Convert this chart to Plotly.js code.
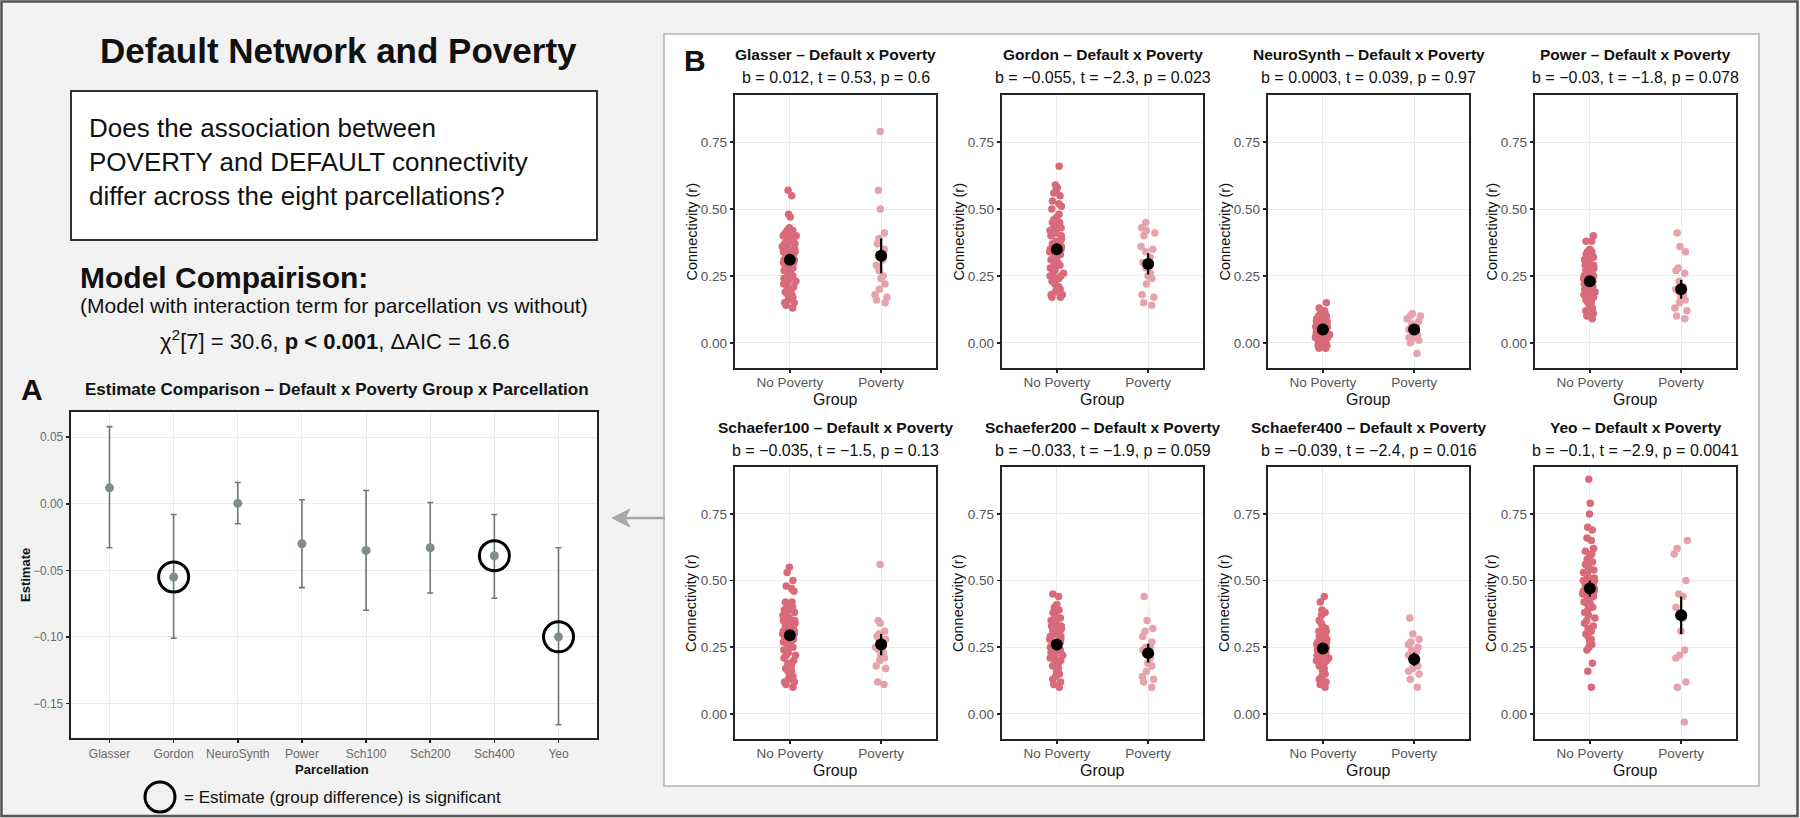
<!DOCTYPE html>
<html><head><meta charset="utf-8">
<script src="https://cdn.plot.ly/plotly-3.0.1.min.js"></script>
<style>html,body{margin:0;padding:0;background:#f2f2f2;}#chart{width:1800px;height:818px;}</style>
</head><body><div id="chart"></div>
<script>
// ---------- Panel A data ----------
const parcelShort = ["Glasser","Gordon","NeuroSynth","Power","Sch100","Sch200","Sch400","Yeo"];
const estimate    = [0.012, -0.055, 0.0003, -0.030, -0.035, -0.033, -0.039, -0.100];
const ciLower     = [-0.033, -0.101, -0.015, -0.063, -0.080, -0.067, -0.071, -0.166];
const ciUpper     = [0.058, -0.008, 0.016, 0.003, 0.010, 0.001, -0.008, -0.033];
const significant = [false, true, false, false, false, false, true, true];

// ---------- Panel B data ----------
const groups = ["No Poverty","Poverty"];
const parcelNames = ["Glasser","Gordon","NeuroSynth","Power","Schaefer100","Schaefer200","Schaefer400","Yeo"];
const statsText = [
  "b = 0.012, t = 0.53, p = 0.6",
  "b = \u22120.055, t = \u22122.3, p = 0.023",
  "b = 0.0003, t = 0.039, p = 0.97",
  "b = \u22120.03, t = \u22121.8, p = 0.078",
  "b = \u22120.035, t = \u22121.5, p = 0.13",
  "b = \u22120.033, t = \u22121.9, p = 0.059",
  "b = \u22120.039, t = \u22122.4, p = 0.016",
  "b = \u22120.1, t = \u22122.9, p = 0.0041"
];
const glasserNP = [0.57,0.55,0.48,0.47,0.43,0.42,0.42,0.41,0.41,0.40,0.40,0.39,0.39,0.38,0.38,0.37,0.37,0.37,0.36,0.36,0.35,0.35,0.35,0.34,0.34,0.33,0.33,0.33,0.32,0.32,0.31,0.31,0.30,0.30,0.29,0.29,0.28,0.28,0.27,0.27,0.26,0.26,0.25,0.25,0.24,0.24,0.23,0.23,0.22,0.22,0.21,0.20,0.20,0.19,0.18,0.18,0.17,0.17,0.16,0.15,0.15,0.14,0.13];
const glasserP  = [0.79,0.57,0.50,0.41,0.39,0.37,0.35,0.33,0.31,0.29,0.27,0.25,0.24,0.22,0.20,0.18,0.17,0.16,0.15];
const gordonNP  = [0.66,0.59,0.58,0.57,0.56,0.55,0.53,0.52,0.51,0.50,0.48,0.47,0.46,0.45,0.45,0.44,0.43,0.43,0.42,0.41,0.41,0.40,0.40,0.39,0.38,0.38,0.37,0.37,0.36,0.36,0.35,0.35,0.34,0.34,0.33,0.33,0.32,0.32,0.31,0.30,0.30,0.29,0.29,0.28,0.28,0.27,0.26,0.26,0.25,0.25,0.24,0.24,0.23,0.22,0.21,0.20,0.20,0.19,0.18,0.18,0.17,0.17];
const gordonP   = [0.45,0.43,0.42,0.41,0.40,0.36,0.35,0.34,0.32,0.30,0.28,0.26,0.25,0.24,0.22,0.18,0.17,0.15,0.14];
const neuroNP   = [0.15,0.13,0.12,0.12,0.11,0.11,0.10,0.10,0.10,0.09,0.09,0.09,0.08,0.08,0.08,0.08,0.07,0.07,0.07,0.07,0.06,0.06,0.06,0.06,0.06,0.05,0.05,0.05,0.05,0.05,0.04,0.04,0.04,0.04,0.04,0.03,0.03,0.03,0.03,0.03,0.02,0.02,0.02,0.02,0.01,0.01,0.01,0.00,0.00,0.00,-0.01,-0.01,-0.02,-0.02];
const neuroP    = [0.11,0.10,0.10,0.09,0.08,0.07,0.06,0.05,0.05,0.04,0.03,0.03,0.02,0.02,0.01,0.00,-0.04];
const powerNP   = [0.40,0.38,0.38,0.35,0.34,0.34,0.33,0.33,0.32,0.32,0.31,0.30,0.30,0.29,0.29,0.28,0.28,0.27,0.27,0.26,0.26,0.25,0.25,0.25,0.24,0.24,0.23,0.23,0.23,0.22,0.22,0.22,0.21,0.21,0.20,0.20,0.20,0.19,0.19,0.18,0.18,0.17,0.17,0.16,0.16,0.15,0.15,0.14,0.13,0.12,0.12,0.11,0.10,0.09];
const powerP    = [0.41,0.36,0.34,0.28,0.27,0.26,0.23,0.21,0.20,0.19,0.18,0.17,0.16,0.15,0.13,0.12,0.10,0.09];
const sch100NP  = [0.55,0.53,0.50,0.48,0.47,0.46,0.42,0.42,0.41,0.40,0.40,0.39,0.39,0.38,0.37,0.37,0.36,0.36,0.35,0.35,0.34,0.34,0.33,0.33,0.32,0.32,0.31,0.31,0.30,0.30,0.29,0.29,0.28,0.28,0.27,0.27,0.26,0.26,0.25,0.25,0.24,0.24,0.23,0.22,0.22,0.21,0.20,0.19,0.18,0.17,0.16,0.16,0.15,0.14,0.13,0.12,0.12,0.11,0.10];
const sch100P   = [0.56,0.35,0.34,0.31,0.30,0.29,0.28,0.27,0.26,0.25,0.24,0.23,0.22,0.21,0.20,0.18,0.17,0.12,0.11];
const sch200NP  = [0.45,0.44,0.41,0.40,0.39,0.38,0.37,0.36,0.36,0.35,0.35,0.34,0.33,0.33,0.32,0.32,0.31,0.31,0.30,0.30,0.29,0.29,0.28,0.28,0.27,0.27,0.27,0.26,0.26,0.25,0.25,0.25,0.24,0.24,0.23,0.23,0.22,0.22,0.21,0.21,0.20,0.20,0.19,0.18,0.18,0.17,0.16,0.15,0.14,0.13,0.12,0.11,0.10];
const sch200P   = [0.44,0.35,0.32,0.31,0.29,0.27,0.25,0.25,0.24,0.23,0.21,0.19,0.18,0.16,0.14,0.13,0.12,0.10];
const sch400NP  = [0.44,0.42,0.39,0.38,0.37,0.35,0.34,0.33,0.32,0.31,0.31,0.30,0.30,0.29,0.29,0.28,0.28,0.27,0.27,0.26,0.26,0.26,0.25,0.25,0.25,0.24,0.24,0.24,0.23,0.23,0.22,0.22,0.22,0.21,0.21,0.20,0.20,0.19,0.19,0.18,0.18,0.17,0.16,0.15,0.14,0.13,0.12,0.11,0.10];
const sch400P   = [0.36,0.30,0.28,0.27,0.26,0.25,0.24,0.23,0.22,0.21,0.20,0.19,0.18,0.17,0.16,0.15,0.13,0.10];
const yeoNP     = [0.88,0.79,0.75,0.70,0.69,0.66,0.65,0.62,0.61,0.60,0.59,0.58,0.57,0.56,0.55,0.54,0.53,0.53,0.52,0.51,0.51,0.50,0.50,0.49,0.49,0.48,0.48,0.47,0.47,0.46,0.46,0.45,0.45,0.44,0.44,0.43,0.43,0.42,0.41,0.41,0.40,0.40,0.39,0.38,0.37,0.36,0.35,0.34,0.33,0.32,0.31,0.30,0.29,0.28,0.27,0.26,0.25,0.24,0.19,0.16,0.10];
const yeoP      = [0.65,0.62,0.60,0.50,0.45,0.44,0.40,0.37,0.36,0.31,0.24,0.22,0.21,0.12,0.10,-0.03];
const meanNP = [0.31, 0.35, 0.05, 0.23, 0.295, 0.26, 0.245, 0.47];
const ciNP   = [0.02, 0.02, 0.01, 0.015, 0.02, 0.015, 0.015, 0.03];
const meanP  = [0.325, 0.295, 0.05, 0.20, 0.26, 0.228, 0.205, 0.37];
const ciP    = [0.065, 0.04, 0.015, 0.035, 0.04, 0.035, 0.025, 0.07];
const yTicks = [0, 0.25, 0.5, 0.75];

const npSets = [glasserNP, gordonNP, neuroNP, powerNP, sch100NP, sch200NP, sch400NP, yeoNP];
const pSets  = [glasserP, gordonP, neuroP, powerP, sch100P, sch200P, sch400P, yeoP];

// ---------- Layout helpers ----------
const W = 1800, H = 818;
const px = x => x / W, py = y => 1 - y / H;
const FONT = "Liberation Sans, Arial, Helvetica, sans-serif";
const colNP = "#d96a7a", colP = "#e6a3ac";
const colLeft = [735, 1002, 1268, 1535], boxW = 201;
const rows = [[95, 368], [467, 739]];

const data = [];
const layout = {
  width: W, height: H, margin: {l:0, r:0, t:0, b:0},
  paper_bgcolor: "#f2f2f2", plot_bgcolor: "#ffffff",
  font: {family: FONT, color: "#111"}, showlegend: false,
  annotations: [], shapes: []
};

const axisStyle = {
  showline: true, mirror: true, linecolor: "#222", linewidth: 1.8,
  ticks: "outside", ticklen: 3.5, tickwidth: 1.6, tickcolor: "#222",
  showgrid: true, gridcolor: "#ebebeb", gridwidth: 1, zeroline: false, fixedrange: true
};

// ---------- Panel A ----------
layout.xaxis = Object.assign({}, axisStyle, {
  domain: [px(71), px(597)], anchor: "y", type: "category", categoryarray: parcelShort,
  range: [-0.6, 7.6], tickfont: {size: 12, color: "#6a6a6a"}
});
layout.yaxis = Object.assign({}, axisStyle, {
  domain: [py(738), py(412)], anchor: "x", range: [-0.176, 0.069],
  tickvals: [-0.15, -0.10, -0.05, 0, 0.05], tickformat: ".2f", tickfont: {size: 12, color: "#6a6a6a"}
});
data.push({
  type: "scatter", mode: "markers", x: parcelShort, y: estimate, xaxis: "x", yaxis: "y",
  marker: {size: 9, color: "#7e8e8b"},
  error_y: {type: "data", symmetric: false,
    array: ciUpper.map((u, i) => u - estimate[i]),
    arrayminus: ciLower.map((l, i) => estimate[i] - l),
    width: 3, thickness: 1.6, color: "#6f7776"}
});
data.push({
  type: "scatter", mode: "markers",
  x: parcelShort.filter((p, i) => significant[i]),
  y: estimate.filter((e, i) => significant[i]),
  xaxis: "x", yaxis: "y",
  marker: {symbol: "circle-open", size: 30, color: "#000", line: {width: 3, color: "#000"}}
});

// ---------- Panel B ----------
for (let i = 0; i < 8; i++) {
  const k = i + 2, r = Math.floor(i / 4), c = i % 4;
  const left = colLeft[c], top = rows[r][0], bottom = rows[r][1];
  layout["xaxis" + k] = Object.assign({}, axisStyle, {
    domain: [px(left), px(left + boxW)], anchor: "y" + k, type: "category",
    categoryarray: groups, range: [-0.6, 1.6], tickfont: {size: 13.5, color: "#555"},
    ticklabelstandoff: -3
  });
  layout["yaxis" + k] = Object.assign({}, axisStyle, {
    domain: [py(bottom), py(top)], anchor: "x" + k, range: [-0.094, 0.926],
    tickvals: yTicks, tickformat: ".2f", tickfont: {size: 13.5, color: "#555"}
  });
  [[npSets[i], groups[0], colNP], [pSets[i], groups[1], colP]].forEach(([vals, g, col]) => {
    data.push({
      type: "box", y: vals, x: vals.map(() => g), xaxis: "x" + k, yaxis: "y" + k,
      boxpoints: "all", jitter: 0.34, pointpos: 0,
      marker: {size: 7.5, color: col, line: {width: 0}},
      line: {width: 0, color: "rgba(0,0,0,0)"}, fillcolor: "rgba(0,0,0,0)",
      whiskerwidth: 0, hoverinfo: "skip"
    });
  });
  data.push({
    type: "scatter", mode: "markers", x: groups, y: [meanNP[i], meanP[i]],
    xaxis: "x" + k, yaxis: "y" + k,
    marker: {size: 12, color: "#000"},
    error_y: {type: "data", array: [ciNP[i], ciP[i]], width: 0, thickness: 2.2, color: "#000"}
  });
  const cx = px(left + boxW / 2);
  layout.annotations.push(
    {text: "<b>" + parcelNames[i] + " \u2013 Default x Poverty</b>", x: cx, y: py(top - 40),
     font: {size: 15.5}},
    {text: statsText[i], x: cx, y: py(top - 17), font: {size: 16}},
    {text: "Connectivity (r)", x: px(left - 44), y: py((top + bottom) / 2), textangle: -90,
     font: {size: 14.5}},
    {text: "Group", x: cx, y: py(bottom + 31), font: {size: 16}}
  );
}

// ---------- Text ----------
const A = (o) => Object.assign({xref: "paper", yref: "paper", showarrow: false,
  xanchor: "center", yanchor: "middle"}, o);
layout.annotations = layout.annotations.map(A);
layout.annotations.push(
  A({text: "<b>Default Network and Poverty</b>", x: px(338), y: py(50), font: {size: 35}}),
  A({text: "Does the association between<br>POVERTY and DEFAULT connectivity<br>differ across the eight parcellations?",
     x: px(87), y: py(162), xanchor: "left", align: "left", font: {size: 26}}),
  A({text: "<b>Model Compairison:</b>", x: px(78), y: py(277), xanchor: "left", font: {size: 30}}),
  A({text: "(Model with interaction term for parcellation vs without)", x: px(78), y: py(305),
     xanchor: "left", font: {size: 21}}),
  A({text: "\u03c7<sup>2</sup>[7] = 30.6, <b>p &lt; 0.001</b>, \u0394AIC = 16.6", x: px(335), y: py(340),
     font: {size: 22}}),
  A({text: "<b>A</b>", x: px(32), y: py(390), font: {size: 30}}),
  A({text: "<b>Estimate Comparison \u2013 Default x Poverty Group x Parcellation</b>", x: px(337), y: py(389),
     font: {size: 17}}),
  A({text: "<b>Estimate</b>", x: px(25), y: py(575), textangle: -90, font: {size: 13}}),
  A({text: "<b>Parcellation</b>", x: px(332), y: py(769), font: {size: 13}}),
  A({text: "= Estimate (group difference) is significant", x: px(182), y: py(797), xanchor: "left",
     font: {size: 17}}),
  A({text: "<b>B</b>", x: px(695), y: py(60), font: {size: 30}})
);

// ---------- Shapes ----------
layout.shapes.push(
  {type: "rect", xref: "paper", yref: "paper", layer: "below",
   x0: px(664), x1: px(1759), y0: py(786), y1: py(34),
   fillcolor: "#ffffff", line: {color: "#c4c4c4", width: 2}},
  {type: "rect", xref: "paper", yref: "paper", layer: "below",
   x0: px(71), x1: px(597), y0: py(240), y1: py(91),
   fillcolor: "#ffffff", line: {color: "#333", width: 2}},
  {type: "circle", xref: "paper", yref: "paper",
   x0: px(145), x1: px(175), y0: py(812), y1: py(782), line: {color: "#000", width: 3}},
  // arrow from panel B to panel A
  {type: "line", xref: "paper", yref: "paper",
   x0: px(622), x1: px(665), y0: py(518), y1: py(518), line: {color: "#a8a8a8", width: 2.5}},
  {type: "path", xref: "paper", yref: "paper",
   path: "M " + px(612) + "," + py(518) + " L " + px(630) + "," + py(509) +
         " L " + px(625) + "," + py(518) + " L " + px(630) + "," + py(527) + " Z",
   fillcolor: "#a8a8a8", line: {color: "#a8a8a8", width: 1}},
  {type: "rect", xref: "paper", yref: "paper",
   x0: px(1.5), x1: px(1797.5), y0: py(816), y1: py(1.5), line: {color: "#555", width: 2.5}}
);

Plotly.newPlot("chart", data, layout, {staticPlot: true, displayModeBar: false});
</script></body></html>
